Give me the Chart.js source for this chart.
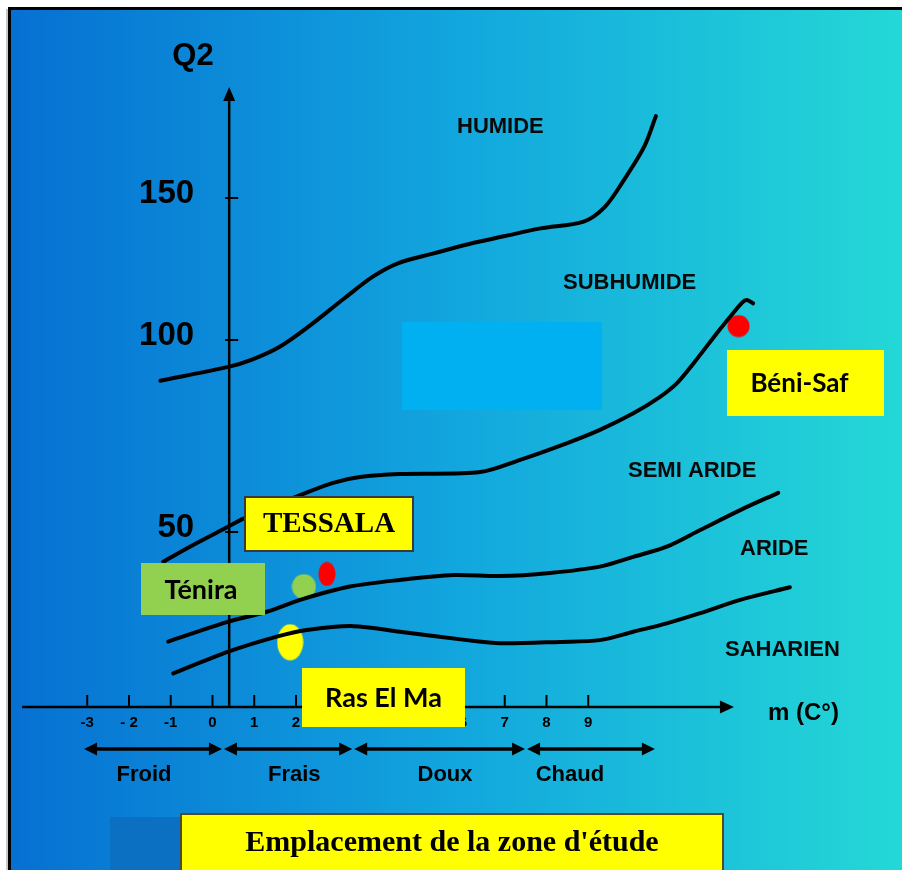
<!DOCTYPE html>
<html><head><meta charset="utf-8">
<script src="https://cdn.jsdelivr.net/npm/chart.js@4/dist/chart.umd.min.js"></script>
<style>html,body{margin:0;padding:0;background:#fff;overflow:hidden}canvas{display:block}</style>
</head><body>
<canvas id="c" width="902" height="870"></canvas>
<script>
// ---------------- DATA ----------------
const xTickValues = [-3,-2,-1,0,1,2,3,4,5,6,7,8,9];
const xTickLabels = ['-3','- 2','-1','0','1','2','3','4','5','6','7','8','9'];
const yTickValues = [50,100,150];
const yTickLabels = ['50','100','150'];

// boundary curves (m in °C, Q2)
const humideM   = [-1.25,0.38,0.93,1.62,2.30,3.16,3.84,4.44,5.30,6.15,7.01,7.86,8.89,9.40,9.83,10.34,10.62];
const humideQ2  = [89.4,93.0,94.8,98.3,104.7,114.7,122.3,127.0,130.5,133.8,136.6,139.3,141.7,146.9,155.9,168.5,179.5];
const subhumM   = [-1.18,-0.54,0.38,0.73,2.10,2.89,3.53,4.49,6.41,7.37,8.48,9.28,10.08,10.72,11.12,11.52,12.08,12.40,12.68,12.80,12.95];
const subhumQ2  = [41.5,45.8,51.4,53.4,59.6,62.8,64.3,65.1,65.6,68.8,73.1,76.6,80.9,85.2,88.7,93.9,102.4,108.2,113.1,114.1,112.9];
const semiM     = [-1.06,0.38,1.30,2.10,3.29,4.49,5.77,6.89,8.08,9.28,10.08,10.88,11.68,12.64,13.55];
const semiQ2    = [18.7,24.4,27.2,30.6,34.4,36.3,37.7,37.4,38.3,40.1,42.9,45.8,50.5,55.7,60.2];
const arideM    = [-0.94,0.38,1.54,2.26,3.37,4.49,6.09,6.89,8.32,9.28,10.08,10.88,11.68,12.64,13.83];
const arideQ2   = [9.6,15.8,20.1,22.0,23.1,21.5,19.1,18.2,18.6,19.1,21.5,23.9,26.8,30.6,34.2];

// stations
const stationNames  = ['TESSALA','Ténira','Ras El Ma','Béni-Saf'];
const stationM      = [2.74, 2.19, 1.86, 12.60];
const stationQ2     = [38.0, 34.4, 18.5, 104.9];
const stationColors = ['#FF0000','#92D050','#FFFF00','#FF0000'];

// bioclimatic stages & thermal variants
const regionNames = ['HUMIDE','SUBHUMIDE','SEMI ARIDE','ARIDE','SAHARIEN'];
const bandNames   = ['Froid','Frais','Doux','Chaud'];
const bandEdges   = [-3.1, 0.25, 3.37, 7.51, 10.62];
const bandLabelM  = [-1.64, 1.96, 5.57, 8.56];

const titleText = "Emplacement de la zone d'étude";
const yAxisTitle = 'Q2';
const xAxisTitle = 'm (C°)';

// ---------------- LAYOUT / STYLE ----------------
const AX = { xStart:-4.56, xEnd:12.49, yAxisAt:0.40, yEnd:190 };
const Q2_KNOTS = [0, 50, 100, 150, 190];
const Q2_FRAC  = [0, 0.2823, 0.5919, 0.8210, 1];
const regionPos = [[457,127],[563,283],[628,471],[740,549],[725,650]];
const stationDot = [[18,25],[25,26],[27,37],[23,23]];
const stationBox = [
  {x:244,y:496,w:170,h:56,fill:'#FFFF00',stroke:'#3a3a3a',font:'bold 29px "Liberation Serif", "Times New Roman", serif'},
  {x:141,y:563,w:124,h:52,fill:'#92D050',stroke:null,font:'bold 27px Lato, "Open Sans", sans-serif'},
  {x:302,y:668,w:163,h:59,fill:'#FFFF00',stroke:null,font:'bold 27px Lato, "Open Sans", sans-serif'},
  {x:727,y:350,w:157,h:66,fill:'#FFFF00',stroke:null,font:'bold 26px Lato, "Open Sans", sans-serif'}
];
const stationTextDx = [0,-2,0,-6];
const SANS = '"Liberation Sans", Arial, sans-serif';

// ---------------- WARPED Q2 SCALE (axis as drawn in the figure) ----------------
function interp(v, A, B){
  for (let i=1;i<A.length;i++){
    if (v<=A[i] || i===A.length-1){
      const a=A[i-1], b=A[i];
      return B[i-1] + (v-a)/(b-a)*(B[i]-B[i-1]);
    }
  }
}
class WarpScale extends Chart.LinearScale {
  getPixelForValue(value){
    if (value===null || value===undefined) return NaN;
    return this.getPixelForDecimal(interp(value, Q2_KNOTS, Q2_FRAC));
  }
  getValueForPixel(pixel){
    return interp(this.getDecimalForPixel(pixel), Q2_FRAC, Q2_KNOTS);
  }
}
WarpScale.id = 'warp';
WarpScale.defaults = Chart.LinearScale.defaults;
Chart.register(WarpScale);

function ellipseImg(w,h,color){
  const c=document.createElement('canvas'); c.width=w; c.height=h;
  const g=c.getContext('2d'); g.fillStyle=color; g.beginPath();
  g.ellipse(w/2,h/2,w/2-0.5,h/2-0.5,0,0,Math.PI*2); g.fill();
  return c;
}
const stationImgs = stationColors.map((c,i)=>ellipseImg(stationDot[i][0],stationDot[i][1],c));

function tri(ctx, x1,y1,x2,y2,x3,y3){ ctx.beginPath(); ctx.moveTo(x1,y1); ctx.lineTo(x2,y2); ctx.lineTo(x3,y3); ctx.closePath(); ctx.fill(); }

const deco = {
  id:'deco',
  beforeDraw(chart){
    const ctx=chart.ctx, W=chart.width, H=chart.height;
    ctx.save();
    ctx.fillStyle='#fff'; ctx.fillRect(0,0,W,H);
    const g=ctx.createLinearGradient(10,0,W,0);
    g.addColorStop(0,'rgb(6,112,210)');
    g.addColorStop(0.5,'rgb(18,166,222)');
    g.addColorStop(1,'rgb(36,216,214)');
    ctx.fillStyle=g; ctx.fillRect(9,9,W-9,H-9);
    ctx.fillStyle='#c8c8c8'; ctx.fillRect(6,9,2,H-9);
    ctx.fillStyle='#000'; ctx.fillRect(8,7,W-8,3); ctx.fillRect(8,7,3,H-7);
    // darker square bottom-left
    ctx.fillStyle='#0B6FC2'; ctx.fillRect(110,817,70,H-817);
    // light blue rectangle
    ctx.fillStyle='#00B0F0'; ctx.beginPath();
    if (ctx.roundRect) ctx.roundRect(402,322,200,88,2); else ctx.rect(402,322,200,88);
    ctx.fill();
    ctx.restore();
  },
  beforeDatasetsDraw(chart){
    const ctx=chart.ctx, xs=chart.scales.x, ys=chart.scales.y;
    const x0=xs.getPixelForValue(AX.xStart), x1=xs.getPixelForValue(AX.xEnd);
    const yA=ys.getPixelForValue(0), xA=xs.getPixelForValue(AX.yAxisAt), yT=ys.getPixelForValue(AX.yEnd);
    ctx.save();
    ctx.strokeStyle='#000'; ctx.fillStyle='#000'; ctx.lineWidth=2.5;
    // x axis
    ctx.beginPath(); ctx.moveTo(x0,yA); ctx.lineTo(x1-8,yA); ctx.stroke();
    tri(ctx, x1,yA, x1-14,yA-6.5, x1-14,yA+6.5);
    // y axis
    ctx.beginPath(); ctx.moveTo(xA,yA); ctx.lineTo(xA,yT+8); ctx.stroke();
    tri(ctx, xA,yT, xA-6,yT+14, xA+6,yT+14);
    // x ticks
    ctx.lineWidth=2;
    ctx.font='bold 15px '+SANS; ctx.textAlign='center'; ctx.textBaseline='middle';
    xTickValues.forEach((v,i)=>{
      const px=xs.getPixelForValue(v);
      ctx.beginPath(); ctx.moveTo(px,yA-12); ctx.lineTo(px,yA); ctx.stroke();
      ctx.fillText(xTickLabels[i], px, yA+16);
    });
    // y ticks
    ctx.font='bold 33px '+SANS; ctx.textAlign='right';
    yTickValues.forEach((v,i)=>{
      const py=ys.getPixelForValue(v);
      ctx.beginPath(); ctx.moveTo(xA-4,py); ctx.lineTo(xA+9,py); ctx.stroke();
      ctx.fillText(yTickLabels[i], xA-35, py-4);
    });
    // axis titles
    ctx.font='bold 31px '+SANS; ctx.textAlign='center';
    ctx.fillText(yAxisTitle, 193, 56);
    ctx.font='bold 24px '+SANS; ctx.textAlign='left';
    ctx.fillText(xAxisTitle, 768, 713);
    // thermal band arrows
    const yb=yA+42;
    ctx.lineWidth=3.5;
    bandNames.forEach((n,i)=>{
      const a=xs.getPixelForValue(bandEdges[i])+1, b=xs.getPixelForValue(bandEdges[i+1])-1;
      ctx.beginPath(); ctx.moveTo(a+8,yb); ctx.lineTo(b-8,yb); ctx.stroke();
      tri(ctx, a,yb, a+13,yb-6.5, a+13,yb+6.5);
      tri(ctx, b,yb, b-13,yb-6.5, b-13,yb+6.5);
    });
    ctx.font='bold 22px '+SANS; ctx.textAlign='center';
    bandNames.forEach((n,i)=>{ ctx.fillText(n, xs.getPixelForValue(bandLabelM[i]), yA+68); });
    // region labels
    ctx.fillStyle='#0a0a0a'; ctx.font='bold 22px '+SANS; ctx.textAlign='left';
    regionNames.forEach((n,i)=>{ ctx.fillText(n, regionPos[i][0], regionPos[i][1]); });
    ctx.restore();
  },
  afterDatasetsDraw(chart){
    const ctx=chart.ctx;
    ctx.save();
    ctx.textAlign='center'; ctx.textBaseline='middle';
    stationBox.forEach((b,i)=>{
      ctx.fillStyle=b.fill; ctx.fillRect(b.x,b.y,b.w,b.h);
      if (b.stroke){ ctx.strokeStyle=b.stroke; ctx.lineWidth=2; ctx.strokeRect(b.x+1,b.y+1,b.w-2,b.h-2); }
      ctx.fillStyle='#000'; ctx.font=b.font;
      ctx.fillText(stationNames[i], b.x+b.w/2+stationTextDx[i], b.y+b.h/2+1);
    });
    // title box at bottom
    ctx.fillStyle='#FFFF00'; ctx.fillRect(180,813,544,60);
    ctx.strokeStyle='#4d4d2e'; ctx.lineWidth=2; ctx.strokeRect(181,814,542,60);
    ctx.fillStyle='#000'; ctx.font='bold 30px "Liberation Serif", "Times New Roman", serif';
    ctx.fillText(titleText, 452, 843);
    ctx.restore();
  }
};

function curve(label, M, Q){
  return { type:'line', label, data:M.map((m,i)=>({x:m,y:Q[i]})),
    borderColor:'#000', borderWidth:4, pointRadius:0, tension:0.3, fill:false, clip:false,
    borderCapStyle:'round', borderJoinStyle:'round' };
}

function build(){
  new Chart(document.getElementById('c'), {
    type:'line',
    data:{ datasets:[
      curve('Humide / Subhumide', humideM, humideQ2),
      curve('Subhumide / Semi aride', subhumM, subhumQ2),
      curve('Semi aride / Aride', semiM, semiQ2),
      curve('Aride / Saharien', arideM, arideQ2),
      { type:'scatter', label:'Stations', data:stationM.map((m,i)=>({x:m,y:stationQ2[i]})),
        pointStyle:stationImgs, pointRadius:16, borderWidth:0, clip:false }
    ]},
    options:{
      responsive:false, animation:false, events:[],
      layout:{ padding:{ left:24.6, right:21.5, top:87, bottom:163 } },
      plugins:{ legend:{display:false}, tooltip:{enabled:false} },
      scales:{
        x:{ type:'linear', min:-4.5, max:16, display:false },
        y:{ type:'warp', min:0, max:190, display:false }
      }
    },
    plugins:[deco]
  });
}
const fl = document.fonts ? Promise.all([
  document.fonts.load('bold 20px Lato'),
  document.fonts.load('bold 20px "Liberation Sans"'),
  document.fonts.load('bold 20px "Liberation Serif"')
]).catch(()=>{}) : Promise.resolve();
Promise.race([fl, new Promise(r=>setTimeout(r,800))]).then(build);
</script>
</body></html>
